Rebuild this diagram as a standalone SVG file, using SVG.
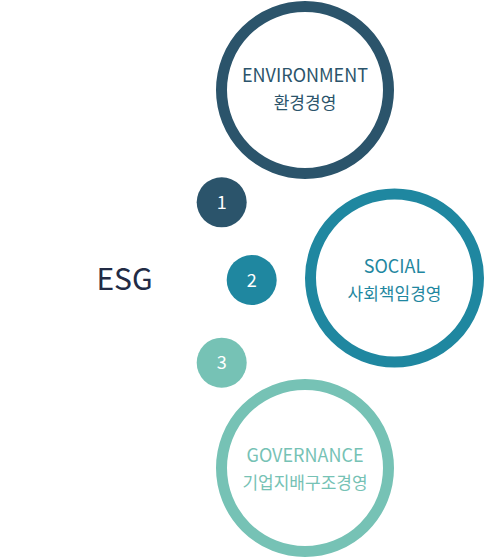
<svg xmlns="http://www.w3.org/2000/svg" width="485" height="560" viewBox="0 0 485 560">
<style>
text{font-family:"Noto Sans CJK KR","Noto Sans",sans-serif;text-anchor:middle}
.ring{fill:#fff;stroke-width:11}
.en{font-size:18px}
.ko{font-size:17px}
.num{font-size:18px;fill:#fff}
</style>
<rect width="485" height="560" fill="#fff"/>
<g id="connectors"/>
<g id="esg"><text x="124.5" y="290" style="font-size:30px;fill:#222b45">ESG</text></g>
<g id="environment">
<circle class="ring" cx="305" cy="90" r="83.5" stroke="#2b546b"/>
<text class="en" x="305" y="82" fill="#2b546b">ENVIRONMENT</text>
<text class="ko" x="305" y="109" fill="#2b546b">환경경영</text>
</g>
<g id="social">
<circle class="ring" cx="394.5" cy="278" r="84" stroke="#1f87a0"/>
<text class="en" x="394.5" y="272.5" fill="#1f87a0">SOCIAL</text>
<text class="ko" x="394.5" y="299.5" fill="#1f87a0">사회책임경영</text>
</g>
<g id="governance">
<circle class="ring" cx="305" cy="468" r="83.5" stroke="#76c2b5"/>
<text class="en" x="305" y="462" fill="#76c2b5">GOVERNANCE</text>
<text class="ko" x="305" y="489" fill="#76c2b5">기업지배구조경영</text>
</g>
<g id="n1"><circle cx="221.7" cy="202.3" r="25" fill="#2b546b"/><text class="num" x="221.7" y="209">1</text></g>
<g id="n2"><circle cx="251.7" cy="280" r="25" fill="#1f87a0"/><text class="num" x="251.7" y="286.5">2</text></g>
<g id="n3"><circle cx="221.7" cy="362.7" r="25" fill="#76c2b5"/><text class="num" x="221.7" y="369.3">3</text></g>
</svg>
